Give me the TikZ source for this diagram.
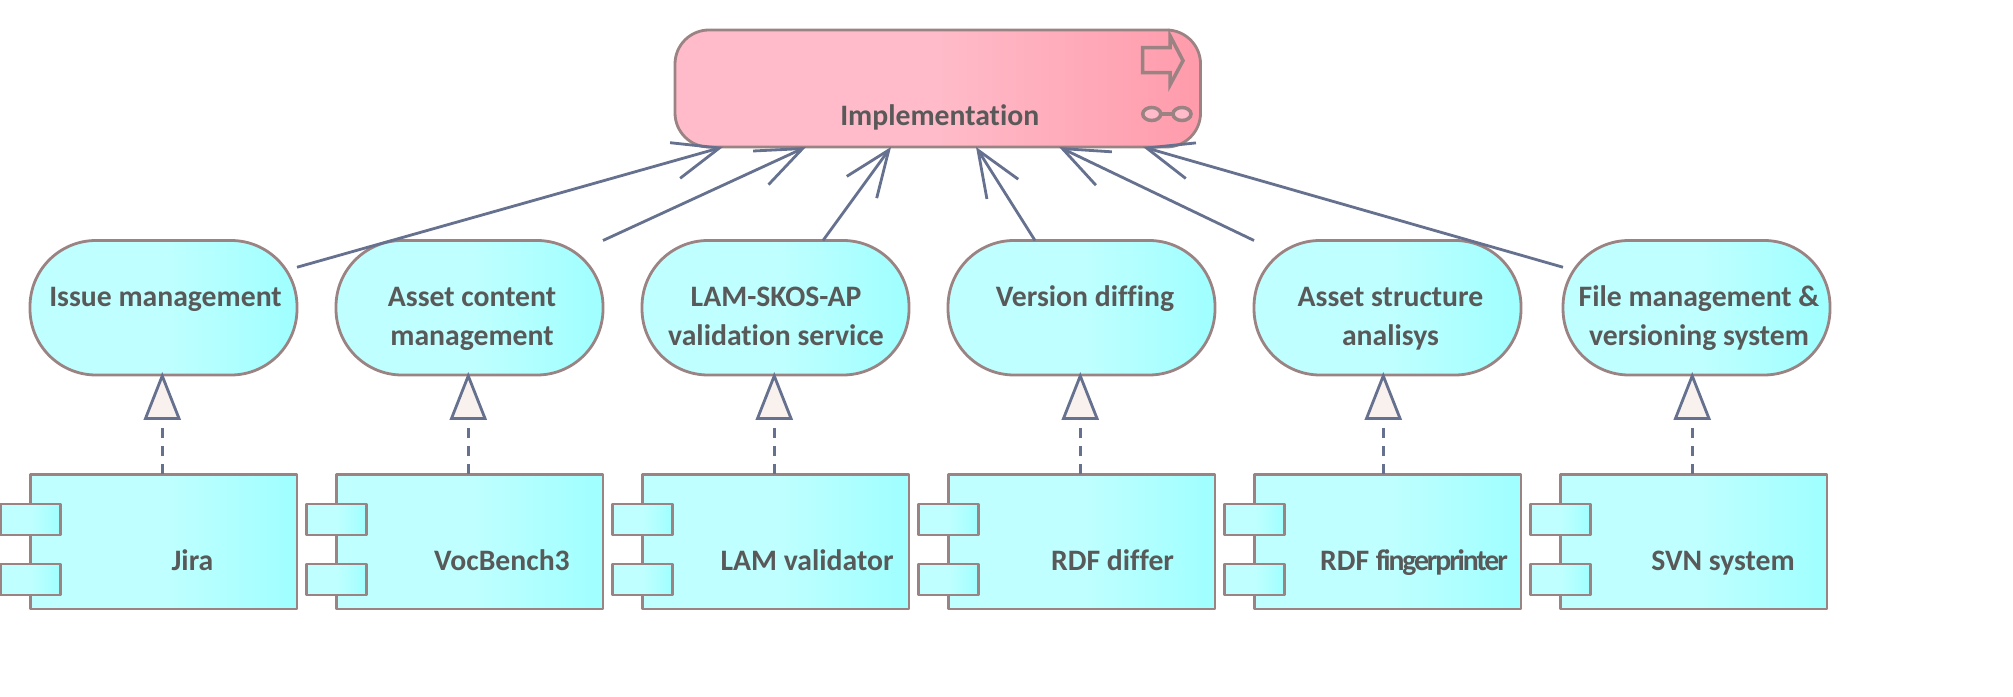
\documentclass[tikz,border=0pt]{standalone}
\usepackage{fontspec}
\setmainfont{Carlito}[Ligatures=NoCommon]
\usetikzlibrary{arrows.meta}

\definecolor{edgeline}{HTML}{9B8383}
\definecolor{flowline}{HTML}{65718E}
\definecolor{labeltext}{HTML}{595959}
\definecolor{cyanlight}{HTML}{C0FFFF}
\definecolor{cyandark}{HTML}{9FFFFF}
\definecolor{pinklight}{HTML}{FFBBC9}
\definecolor{pinkdark}{HTML}{FF9BAB}
\definecolor{trianglefill}{HTML}{F9F1ED}

\tikzset{
	cyanfill/.style={left color=cyanlight, right color=cyandark, middle color=cyanlight},
	service/.style={cyanfill, draw=edgeline, line width=0.8pt, minimum width=2.67cm, minimum height=1.345cm, inner sep=0pt, outer sep=0pt, rounded corners=0.66cm},
	component/.style={cyanfill, draw=edgeline, line width=0.8pt, line join=round, minimum width=2.665cm, minimum height=1.345cm, inner sep=0pt, outer sep=0pt},
	port/.style={cyanfill, draw=edgeline, line width=0.8pt, line join=round, minimum width=0.6cm, minimum height=0.31cm, inner sep=0pt, outer sep=0pt},
	process/.style={left color=pinklight, right color=pinkdark, middle color=pinklight, draw=edgeline, line width=0.8pt, minimum width=5.255cm, minimum height=1.17cm, inner sep=0pt, outer sep=0pt, rounded corners=0.34cm},
	txt/.style={text=labeltext, font=\fontsize{8.45pt}{11.05pt}\selectfont\bfseries, align=center, anchor=base, inner sep=0pt},
	serves/.style={draw=flowline, line width=0.8pt, -{Straight Barb[length=4.6mm,width=3.7mm]}},
	realises/.style={draw=flowline, line width=0.8pt, dash pattern=on 1mm off 0.8mm, shorten >=-0.3mm, -{Triangle[length=4.8mm,width=3.7mm,fill=trianglefill]}},
	icon/.style={draw=edgeline, line width=1pt}
}

\begin{document}
\begin{tikzpicture}
	\useasboundingbox (0, 0) rectangle (20.13, 6.96);
	
	%%%%% top box %%%%%
	\node[process] (impl) at (9.3775, 6.075) {};
	\node[txt] (impltext) at (9.397, 5.70) {Implementation};
	\draw[icon, line join=miter] (11.427, 6.483) -- (11.70, 6.483) -- (11.70, 6.603) -- (11.83, 6.353) -- (11.70, 6.11) -- (11.70, 6.233) -- (11.427, 6.233) -- cycle;
	\draw[icon, fill=pinklight] (11.517, 5.82) ellipse (0.09 and 0.065);
	\draw[icon, fill=pinklight] (11.82, 5.82) ellipse (0.09 and 0.065);
	\draw[icon] (11.607, 5.82) -- (11.73, 5.82);
	
	%%%%% services %%%%%
	\node[service] (issue) at (1.635, 3.8825) {};
	\node[service] (content) at (4.695, 3.8825) {};
	\node[service] (validation) at (7.755, 3.8825) {};
	\node[service] (diffing) at (10.815, 3.8825) {};
	\node[service] (structure) at (13.875, 3.8825) {};
	\node[service] (files) at (16.965, 3.8825) {};
	
	\node[txt] (issuetext) at (1.655, 3.895) {Issue management};
	\node[txt] (contenttext) at (4.72, 3.505) {Asset content\\management};
	\node[txt] (validationtext) at (7.76, 3.505) {LAM-SKOS-AP\\validation service};
	\node[txt] (diffingtext) at (10.85, 3.895) {Version diffing};
	\node[txt] (structuretext) at (13.905, 3.505) {Asset structure\\analisys};
	\node[txt] (filestext) at (16.99, 3.505) {File management \&\\versioning system};
	
	%%%%% components %%%%%
	\node[component] (jira) at (1.6375, 1.5425) {};
	\node[port] (jiraup) at ([yshift=2.22mm]jira.west) {};
	\node[port] (jiradown) at ([yshift=-3.78mm]jira.west) {};
	\node[txt] (jiratext) at (1.925, 1.25) {Jira};
	
	\node[component] (vocbench) at (4.6975, 1.5425) {};
	\node[port] (vocbenchup) at ([yshift=2.22mm]vocbench.west) {};
	\node[port] (vocbenchdown) at ([yshift=-3.78mm]vocbench.west) {};
	\node[txt] (vocbenchtext) at (5.02, 1.25) {VocBench3};
	
	\node[component] (lam) at (7.7575, 1.5425) {};
	\node[port] (lamup) at ([yshift=2.22mm]lam.west) {};
	\node[port] (lamdown) at ([yshift=-3.78mm]lam.west) {};
	\node[txt] (lamtext) at (8.07, 1.25) {LAM validator};
	
	\node[component] (differ) at (10.8175, 1.5425) {};
	\node[port] (differup) at ([yshift=2.22mm]differ.west) {};
	\node[port] (differdown) at ([yshift=-3.78mm]differ.west) {};
	\node[txt] (differtext) at (11.126, 1.25) {RDF differ};
	
	\node[component] (printer) at (13.8775, 1.5425) {};
	\node[port] (printerup) at ([yshift=2.22mm]printer.west) {};
	\node[port] (printerdown) at ([yshift=-3.78mm]printer.west) {};
	\node[txt] (printertext) at (14.14, 1.25) {RDF {\addfontfeature{LetterSpace=-7}fingerprinter}};
	
	\node[component] (svn) at (16.937, 1.5425) {};
	\node[port] (svnup) at ([yshift=2.22mm]svn.west) {};
	\node[port] (svndown) at ([yshift=-3.78mm]svn.west) {};
	\node[txt] (svntext) at (17.23, 1.25) {SVN system};
	
	%%%%% component to service %%%%%
	\draw[realises] ([xshift=-0.15mm]jira.north) -- ([xshift=-0.15mm]jira.north |- issue.south);
	\draw[realises] ([xshift=-0.15mm]vocbench.north) -- ([xshift=-0.15mm]vocbench.north |- content.south);
	\draw[realises] ([xshift=-0.15mm]lam.north) -- ([xshift=-0.15mm]lam.north |- validation.south);
	\draw[realises] ([xshift=-0.15mm]differ.north) -- ([xshift=-0.15mm]differ.north |- diffing.south);
	\draw[realises] ([xshift=-0.45mm]printer.north) -- ([xshift=-0.45mm]printer.north |- structure.south);
	\draw[realises] ([xshift=-0.15mm]svn.north) -- ([xshift=-0.15mm]svn.north |- files.south);
	
	%%%%% service to top box %%%%%
	\draw[serves] ([yshift=4.05mm]issue.east) -- ([xshift=-21.475mm]impl.south);
	\draw[serves] (content.north east) -- ([xshift=-13.175mm]impl.south);
	\draw[serves] ([xshift=4.75mm]validation.north) -- ([xshift=-4.675mm]impl.south);
	\draw[serves] ([xshift=-4.65mm]diffing.north) -- ([xshift=3.825mm]impl.south);
	\draw[serves] (structure.north west) -- ([xshift=12.125mm]impl.south);
	\draw[serves] ([yshift=4.05mm]files.west) -- ([xshift=20.525mm]impl.south);
	
\end{tikzpicture}
\end{document}
